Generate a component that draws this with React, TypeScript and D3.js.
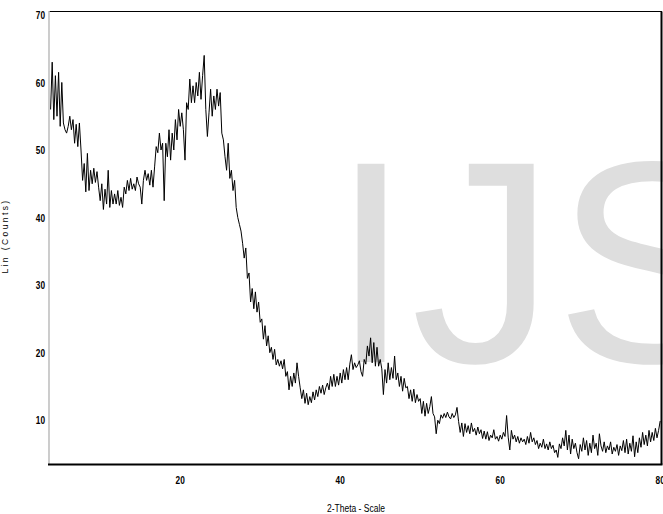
import React from "react";
import * as d3 from "d3";

// 2-Theta grid: start angle and step (degrees)
const ANGLE_START = 3.8;
const ANGLE_STEP = 0.2;

// Lin (Counts), one value per step
const counts: number[] = [
  56, 63, 54.5, 61, 55, 61.5, 53.5, 60, 54, 53,
  52.5, 53.5, 55, 53, 54.5, 51, 53.8, 50.5, 54, 50,
  45.5, 48, 43.8, 49.5, 44, 47, 45, 47.3, 45.2, 46.8,
  44.5, 42.5, 45, 41.2, 44.2, 42, 47, 41.5, 44, 42,
  43.5, 42, 44, 41.8, 43, 41.5, 44.5, 43.5, 45.5, 44,
  45.8, 44.2, 45, 44, 46, 45, 44.5, 42, 45.5, 47,
  45.5, 46.5, 44.8, 47, 44.5, 47.5, 50.5, 49.6, 52.5, 50,
  51, 42.5, 51, 49, 53, 48.5, 52.5, 50, 54.5, 51.5,
  56, 53.5, 55.5, 53, 48.5, 57, 56, 60.5, 57, 59.5,
  57, 60, 58, 61.5, 57.5, 61, 64, 56, 52, 55.5,
  59, 55, 58, 56, 59, 56.5, 58.5, 52.5, 51.5, 49,
  47, 51, 45.8, 47, 44, 45.5, 41.5, 40, 39, 38,
  36.2, 34, 35.5, 31, 31.8, 27.5, 29.5, 26.5, 29, 26,
  27.5, 24.5, 25, 22, 24, 21, 22.5, 20, 20.8, 19,
  20.5, 18.2, 19, 18, 18.8, 17.6, 19, 16.5, 17.2, 14.5,
  16.5, 15, 17, 15.5, 18.5, 16.5, 14.8, 13.2, 14.5, 12.5,
  14, 12.3, 13.5, 12.6, 14.2, 13, 14.5, 13.5, 15, 14,
  15.2, 13.8, 14.8, 15.5, 14.5, 16.5, 15, 16.8, 15, 16.5,
  15.2, 17, 15.5, 17.5, 16, 17.8, 16, 18.3, 19.7, 17.5,
  18.5, 17.8, 18.2, 18.8, 17.2, 16.5, 19, 18.3, 21, 19.5,
  22.2, 18.5, 21.5, 18, 20.8, 18, 19, 17.6, 13.8, 17.5,
  15.5, 18.5, 16, 17.8, 16.2, 19.5, 16, 17, 15, 16.5,
  14.3, 16.2, 14.8, 15, 13.2, 14.5, 12.8, 14.6, 12.6, 13.8,
  12.8, 13.2, 11, 12.8, 10.6, 12.5, 11, 12, 13.5, 11,
  10.5, 8, 10, 9.5, 10.8, 10.3, 11, 10.4, 11.2, 10.5,
  10.2, 11, 10.4, 10.8, 11.9, 9.8, 8.2, 9.6, 7.6, 9.5,
  8.2, 9.2, 8, 9.6, 8.3, 8.8, 7.8, 9, 8, 8.6,
  7.3, 8.4, 7.2, 8.3, 7, 7.8, 7.4, 8.6, 7.2, 7.6,
  6.9, 7.8, 7.2, 8.2, 7.6, 10.7, 7.5, 5.6, 8.5, 7.2,
  7.8, 6.8, 7.6, 6.6, 7.4, 6.8, 7.2, 6.4, 7.6, 6.6,
  8.2, 6.8, 7.4, 6.4, 7, 5.8, 6.6, 6, 7.2, 5.8,
  6.5, 5.6, 6.8, 5.8, 6.3, 5.2, 5.6, 4.5, 6.5, 5.8,
  7.4, 6.2, 8.5, 5.6, 7.8, 5, 7.2, 5.8, 6.6, 5.2,
  4.3, 6.4, 5.4, 7.4, 5.6, 7, 4.8, 6.6, 5.2, 7.8,
  5.8, 6.6, 4.8, 8, 6.2, 5.4, 6.8, 5.2, 6.2, 5.6,
  6.8, 5, 6, 5.4, 6.4, 4.8, 6.2, 5.5, 7, 5.2,
  7.2, 5, 6.6, 5.4, 7.7, 4.6, 6.8, 5.2, 7.4, 6,
  8.2, 6.4, 7.8, 6.2, 8.5, 6.8, 8.2, 7, 8.8, 7.4,
  8.5, 9.9,
];

const yTicks = [10, 20, 30, 40, 50, 60, 70];
const xTicks = [20, 40, 60, 80];
const xTitle = "2-Theta - Scale";
const yTitle = "Lin (Counts)";
const watermark = "IJS";

const W = 663;
const H = 514;
const left = 49;
const right = 661;
const top = 11.5;
const bottom = 464.5;
const SQUEEZE = 0.72;

export default function App() {
  const x = d3.scaleLinear().domain([3.6, 80.1]).range([left, right]);
  const y = d3.scaleLinear().domain([3.45, 70.5]).range([bottom, top]);
  const pts: [number, number][] = counts.map((c, i) => [ANGLE_START + i * ANGLE_STEP, c]);
  const line = d3
    .line<[number, number]>()
    .x((d) => x(d[0]))
    .y((d) => y(d[1]));

  const font = "'Liberation Sans', Arial, sans-serif";

  return (
    <svg
      width={W}
      height={H}
      style={{ position: "absolute", left: 0, top: 0, background: "#fff" }}
    >
      <rect x={0} y={0} width={W} height={H} fill="#fff" />
      <text x={331} y={362} fontFamily={font} fontSize={288} fill="#dedede">
        {watermark}
      </text>
      <path d={line(pts) || ""} fill="none" stroke="#000" strokeWidth={1} />
      {/* frame */}
      <line x1={left} x2={right + 1} y1={top} y2={top} stroke="#000" strokeWidth={1.2} />
      <line x1={right + 0.5} x2={right + 0.5} y1={top} y2={bottom} stroke="#000" strokeWidth={2} />
      <line x1={left} x2={left} y1={top - 0.5} y2={bottom} stroke="#c0c0c0" strokeWidth={1.6} />
      <line x1={left - 1} x2={right + 1.5} y1={bottom} y2={bottom} stroke="#000" strokeWidth={2} />
      {yTicks.map((t) => (
        <g key={"y" + t} transform={`translate(45, ${y(t)}) scale(${SQUEEZE}, 1)`}>
          <text dy="0.36em" textAnchor="end" fontFamily={font} fontWeight="bold" fontSize={11.5} fill="#000">
            {t}
          </text>
        </g>
      ))}
      {xTicks.map((t) => (
        <g key={"x" + t} transform={`translate(${x(t)}, 480) scale(${SQUEEZE}, 1)`}>
          <text dy="0.36em" textAnchor="middle" fontFamily={font} fontWeight="bold" fontSize={11.5} fill="#000">
            {t}
          </text>
        </g>
      ))}
      <g transform={`translate(356, 508) scale(0.74, 1)`}>
        <text dy="0.36em" textAnchor="middle" fontFamily={font} fontSize={11.5} fill="#000">
          {xTitle}
        </text>
      </g>
      <text
        transform={`translate(8, 236) rotate(-90)`}
        textAnchor="middle"
        fontFamily={font}
        fontSize={8.5}
        letterSpacing={2.4}
        fill="#000"
      >
        {yTitle}
      </text>
    </svg>
  );
}
